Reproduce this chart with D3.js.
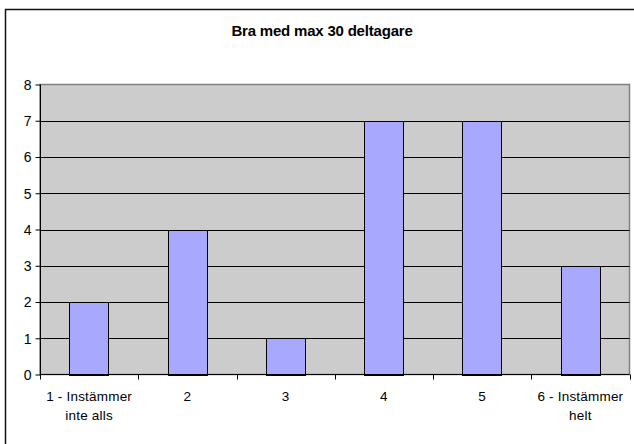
<!DOCTYPE html>
<html>
<head>
<meta charset="utf-8">
<script src="https://cdn.jsdelivr.net/npm/d3@7"></script>
<style>
  body { margin: 0; background: #fff; }
  svg { display: block; font-family: Arial, "Liberation Sans", sans-serif; }
</style>
</head>
<body>
<svg id="chart" width="634" height="444"></svg>
<script>
  var title = 'Bra med max 30 deltagare';
  var categories = ['1 - Instämmer|inte alls', '2', '3', '4', '5', '6 - Instämmer|helt'];
  var values = [2, 4, 1, 7, 7, 3];
  var yTicks = [0, 1, 2, 3, 4, 5, 6, 7, 8];

(function() {
  var svg = d3.select('#chart');
  var pLeft = 40, pRight = 629.5, pTop = 84.5, pBottom = 374.5;

  // outer frame (runs past the bottom/right edge of the picture)
  svg.append('rect')
    .attr('x', 5.5).attr('y', 9.5)
    .attr('width', 640).attr('height', 450)
    .style('fill', 'white').style('stroke', '#111').style('stroke-width', 1.5);

  svg.append('text')
    .attr('x', 322).attr('y', 36)
    .attr('text-anchor', 'middle')
    .style('font-size', '15px').style('font-weight', 'bold')
    .style('letter-spacing', '-0.2px')
    .text(title);

  var x = d3.scaleBand().domain(categories).range([pLeft, pRight]).paddingInner(0.6).paddingOuter(0.3);
  var y = d3.scaleLinear().domain([0, 8]).range([pBottom, pTop]);

  // plot area
  svg.append('rect')
    .attr('x', pLeft).attr('y', pTop)
    .attr('width', pRight - pLeft).attr('height', pBottom - pTop)
    .style('fill', '#cccccc').style('stroke', '#808080').style('stroke-width', 1.5);

  // gridlines
  svg.selectAll('line.grid')
    .data(yTicks.filter(function(d) { return d > 0 && d < 8; }))
    .enter().append('line').classed('grid', true)
    .attr('x1', pLeft).attr('x2', pRight)
    .attr('y1', function(d) { return Math.round(y(d)) + 0.5; })
    .attr('y2', function(d) { return Math.round(y(d)) + 0.5; })
    .style('stroke', '#000').style('stroke-width', 1);

  // bars
  svg.selectAll('rect.bar')
    .data(values)
    .enter().append('rect').classed('bar', true)
    .attr('x', function(d, i) { return Math.round(x(categories[i])) + 0.5; })
    .attr('y', function(d) { return Math.round(y(d)) + 0.5; })
    .attr('width', Math.round(x.bandwidth()))
    .attr('height', function(d) { return Math.round(y(0)) - Math.round(y(d)); })
    .style('fill', '#a8a8ff').style('stroke', '#000').style('stroke-width', 1);

  // y axis
  var yAxis = d3.axisLeft(y).tickValues(yTicks).tickSize(5).tickPadding(4);
  var gy = svg.append('g').attr('transform', 'translate(' + (pLeft + 0.5) + ',0)').call(yAxis);
  gy.attr('font-family', null).attr('font-size', null);
  gy.select('.domain').attr('d', 'M0,' + pTop + 'V' + pBottom).style('stroke', '#000');
  gy.selectAll('.tick line').style('stroke', '#000');
  gy.selectAll('.tick text').style('font-size', '14px').style('fill', '#000').attr('dy', '0.35em');

  // x axis with ticks at category boundaries
  svg.append('line')
    .attr('x1', pLeft).attr('x2', pRight)
    .attr('y1', pBottom).attr('y2', pBottom)
    .style('stroke', '#000');
  var bounds = d3.range(categories.length + 1).map(function(i) { return pLeft + i * (pRight - pLeft) / categories.length; });
  svg.selectAll('line.xtick')
    .data(bounds)
    .enter().append('line').classed('xtick', true)
    .attr('x1', function(d) { return Math.round(d) + 0.5; })
    .attr('x2', function(d) { return Math.round(d) + 0.5; })
    .attr('y1', pBottom).attr('y2', pBottom + 5)
    .style('stroke', '#000');

  var labels = svg.selectAll('text.xlab')
    .data(categories)
    .enter().append('text').classed('xlab', true)
    .attr('text-anchor', 'middle')
    .style('font-size', '13.5px')
    .style('letter-spacing', '0.2px');
  labels.each(function(d) {
    var cx = x(d) + x.bandwidth() / 2;
    d3.select(this).selectAll('tspan')
      .data(d.split('|'))
      .enter().append('tspan')
      .attr('x', cx)
      .attr('y', function(t, j) { return 401 + j * 19; })
      .text(function(t) { return t; });
  });
})();
</script>
</body>
</html>
